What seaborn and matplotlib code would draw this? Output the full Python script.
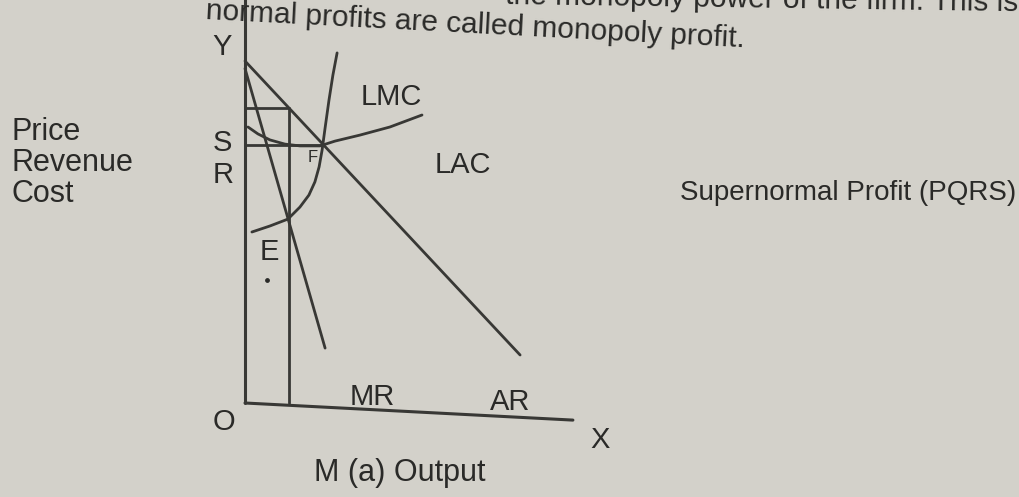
import numpy as np
import pandas as pd
import matplotlib
matplotlib.use("Agg")
import matplotlib.pyplot as plt
import seaborn as sns

# ---- curve data (output on x, price / revenue / cost on y) ----
ar_q = [0.0, 9.17]
ar_p = [11.40, 1.60]

mr_q = [0.0, 2.67]
mr_p = [11.15, 1.83]

lmc_q = [0.23, 0.83, 1.43, 1.83, 2.13, 2.33, 2.47, 2.57, 2.67, 2.80, 2.93, 3.07]
lmc_p = [5.70, 5.90, 6.13, 6.53, 6.93, 7.37, 7.87, 8.43, 9.17, 10.10, 10.93, 11.67]

lac_q = [0.10, 0.43, 0.83, 1.33, 1.83, 2.50, 3.00, 3.83, 4.83, 5.90]
lac_p = [9.20, 8.97, 8.77, 8.63, 8.57, 8.57, 8.73, 8.93, 9.20, 9.60]

# equilibrium output and the price / cost levels
q_eq = 1.47
price_p = 9.83
cost_s = 8.60

# axis ends
y_axis_top = 13.6
x_axis_end = (10.93, -0.57)

# ---- text ----
axis_side_label = ["Price", "Revenue", "Cost"]
profit_note = "Supernormal Profit (PQRS)"
x_caption = "M (a) Output"
page_line_1 = "the monopoly power of the firm. This is"
page_line_2 = "normal profits are called monopoly profit."

W, H, DPI = 1020, 497, 100
BG = "#d3d1ca"
INK = "#2a2a28"
LINE = "#383835"

sns.set_theme(style="white", rc={"axes.facecolor": BG, "figure.facecolor": BG})
plt.rcParams["font.family"] = ["Liberation Sans", "DejaVu Sans"]

fig = plt.figure(figsize=(W / DPI, H / DPI), dpi=DPI)
ax = fig.add_axes([0, 0, 1, 1])
ax.set_facecolor(BG)

# 30 px per unit, origin O placed at (245, 403) px
scale = 30.0
ox, oy = 245.0, 403.0
ax.set_xlim(-ox / scale, (W - ox) / scale)
ax.set_ylim(-(H - oy) / scale, oy / scale)
ax.set_axis_off()

lw = 2.0


def seg(q, p, width=lw):
    df = pd.DataFrame({"q": q, "p": p})
    sns.lineplot(data=df, x="q", y="p", ax=ax, estimator=None, sort=False,
                 color=LINE, linewidth=width, legend=False)


# axes
seg([0, 0], [0, y_axis_top], 2.2)
seg([0, x_axis_end[0]], [0, x_axis_end[1]], 2.2)

# demand / average revenue and marginal revenue
seg(ar_q, ar_p)
seg(mr_q, mr_p)

# cost curves
seg(lmc_q, lmc_p)
seg(lac_q, lac_p)

# price line, cost line and output line
seg([0, q_eq], [price_p, price_p])
seg([0, lmc_q[7]], [cost_s, cost_s])
seg([q_eq, q_eq], [0, price_p])

# ---- labels inside the diagram ----
fs = 21
lab = dict(color=INK, fontsize=fs, ha="center", va="center")
ax.text(-0.77, 11.87, "Y", **lab)
ax.text(-0.77, 8.67, "S", **lab)
ax.text(-0.73, 7.60, "R", **lab)
ax.text(4.87, 10.20, "LMC", **lab)
ax.text(7.27, 7.93, "LAC", **lab)
ax.text(2.27, 8.20, "F", color=INK, fontsize=12, ha="center", va="center")
ax.text(0.80, 5.03, "E", **lab)
ax.scatter([0.73], [4.10], s=6, color=INK, zorder=3)
ax.text(4.23, 0.20, "MR", **lab)
ax.text(8.83, 0.03, "AR", **lab)
ax.text(-0.70, -0.63, "O", **lab)
ax.text(11.83, -1.23, "X", **lab)
ax.text(5.17, -2.33, x_caption, color=INK, fontsize=22, ha="center", va="center")

# ---- text around the diagram (figure pixels) ----
def ftext(px, py, s, **kw):
    fig.text(px / W, 1 - py / H, s, color=INK, **kw)


for i, word in enumerate(axis_side_label):
    ftext(12, 140 + 31 * i, word, fontsize=22, ha="left", va="baseline")

ftext(680, 200, profit_note, fontsize=20, ha="left", va="baseline")

ftext(1018, 11, page_line_1, fontsize=21.5, ha="right", va="baseline",
      rotation=-0.8, rotation_mode="anchor")
ftext(205, 19, page_line_2, fontsize=21.5, ha="left", va="baseline",
      rotation=-3, rotation_mode="anchor")

fig.savefig("out.png", dpi=DPI, facecolor=BG)
